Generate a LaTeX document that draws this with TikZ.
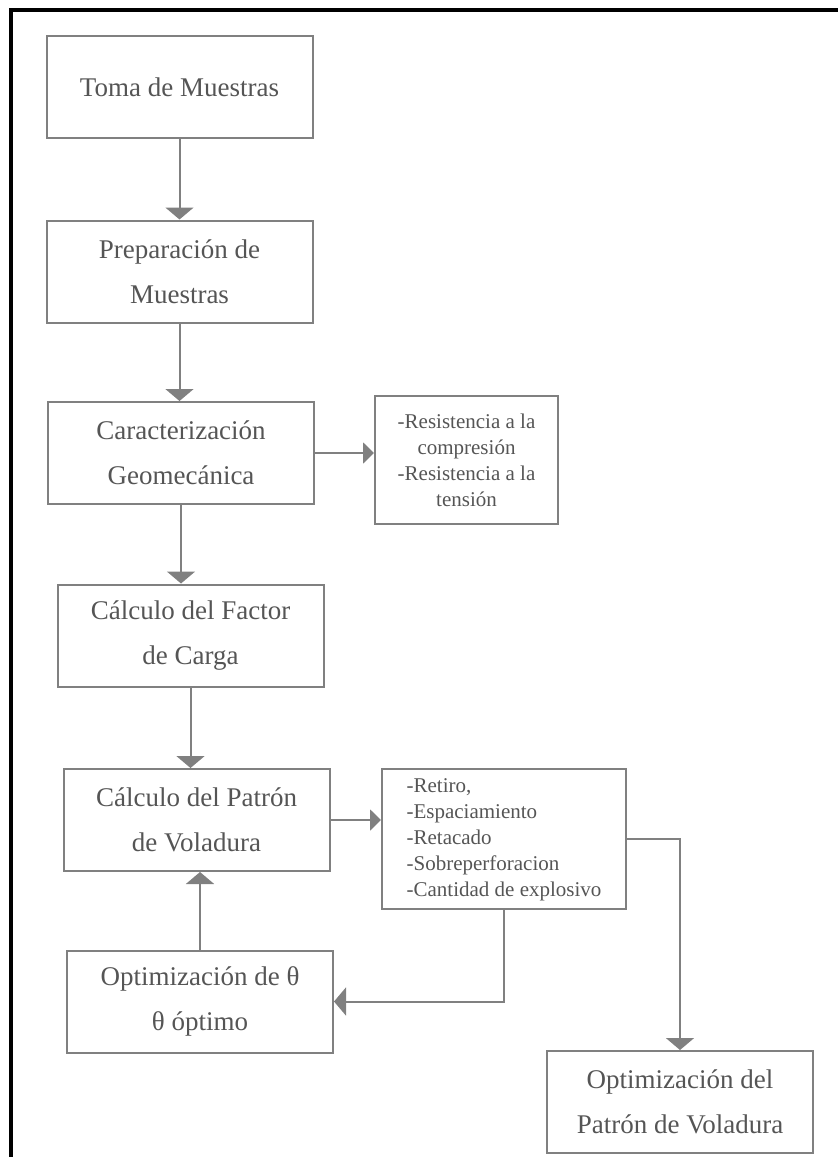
\documentclass[tikz,border=0pt]{standalone}
\usepackage{fontspec}
\setmainfont{Liberation Serif}
\usepackage{xcolor}
\usepackage{tikz}
\usetikzlibrary{positioning,arrows.meta,calc}

\definecolor{linegray}{HTML}{808080}
\definecolor{textgray}{HTML}{555555}

\begin{document}
\begin{tikzpicture}[
    x=1pt, y=-1pt,
    block/.style={rectangle, draw=linegray, line width=2pt, minimum width=266pt, minimum height=102pt, align=center, text=textgray, font=\fontsize{27}{45}\selectfont, inner sep=0pt},
    sidebox/.style={rectangle, draw=linegray, line width=2pt, align=center, text=textgray, font=\fontsize{21}{26}\selectfont, inner sep=0pt},
    arr/.style={-{Triangle[length=12pt, width=28pt]}, line width=2pt, color=linegray},
    sidearr/.style={-{Triangle[length=11pt, width=21pt]}, line width=2pt, color=linegray}
]
\useasboundingbox (0,0) rectangle (838,1157);

% ============================================================
% FRAME
% ============================================================
\coordinate (frameBL) at (11,1157);
\coordinate (frameTL) at (11,10);
\coordinate (frameTR) at (838,10);
\draw[line width=4pt, black] (frameBL) -- (frameTL) -- (frameTR);

% ============================================================
% MAIN STEPS
% ============================================================
\node[block] (toma)   at (179.5, 87)    {Toma de Muestras};
\node[block] (prep)   at (179.5, 271.5) {Preparación de\\Muestras};
\node[block] (carac)  at (181, 453)     {Caracterización\\Geomecánica};
\node[block] (factor) at (190.5, 635.5) {Cálculo del Factor\\de Carga};
\node[block] (patron) at (196.5, 820)   {Cálculo del Patrón\\de Voladura};
\node[block] (optth)  at (200, 1001.5)  {Optimización de θ\\θ óptimo};
\node[block] (optpat) at (680, 1102)    {Optimización del\\Patrón de Voladura};

% ============================================================
% SIDE BOXES
% ============================================================
\node[sidebox, minimum width=183pt, minimum height=128pt] (resist) at (466.5, 460)
    {-Resistencia a la\\compresión\\-Resistencia a la\\tensión};
\node[sidebox, minimum width=244pt, minimum height=140pt] (params) at (504, 839)
    {\begin{tabular}{@{}l@{}}-Retiro,\\-Espaciamiento\\-Retacado\\-Sobreperforacion\\-Cantidad de explosivo\end{tabular}};

% ============================================================
% CONNECTORS
% ============================================================
\draw[arr] (toma) -- (prep);
\draw[arr] (prep.south) -- (prep.south |- carac.north);
\draw[arr] (carac.south) -- (carac.south |- factor.north);
\draw[arr] (factor.south) -- (factor.south |- patron.north);
\draw[sidearr] (carac.east) -- (carac.east -| resist.west);
\draw[sidearr] (patron.east) -- (patron.east -| params.west);
\draw[arr] (params.east) -| (optpat.north);
\draw[arr] (params.south) |- (optth.east);
\draw[arr] (optth.north) -- (optth.north |- patron.south);

\end{tikzpicture}
\end{document}
